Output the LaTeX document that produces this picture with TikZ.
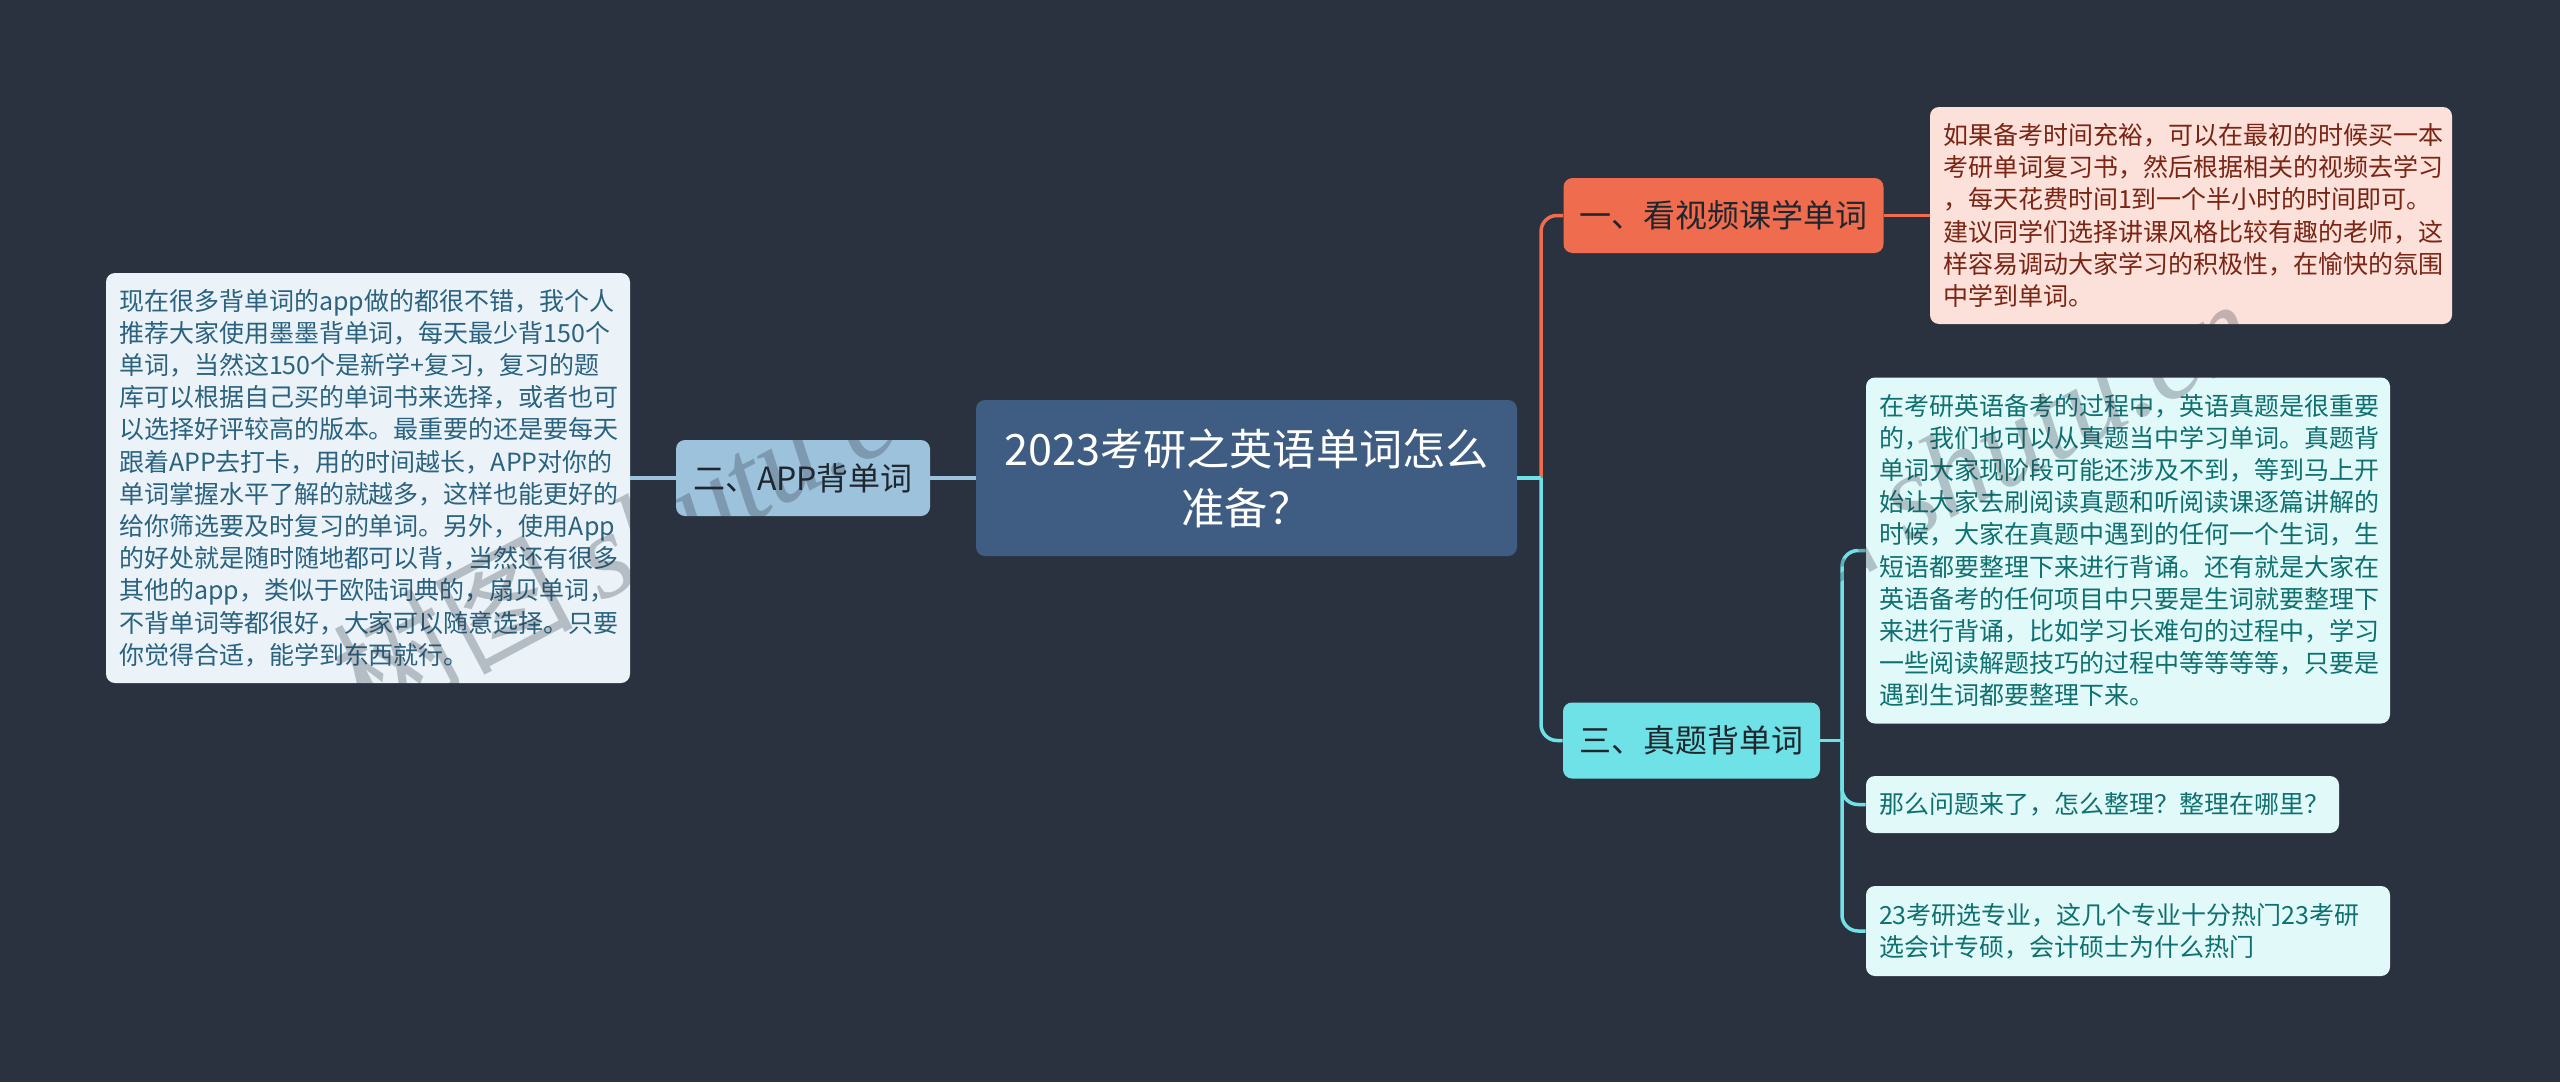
\documentclass[tikz,border=0pt]{standalone}
\usepackage{fontspec}
\setmainfont{Noto Sans CJK SC}
\newfontfamily\wmlatin[Scale=1.0]{Liberation Serif}
\definecolor{bgc}{HTML}{2A3240}
\definecolor{rootc}{HTML}{3F5C82}
\definecolor{orc}{HTML}{F06C4E}
\definecolor{orl}{HTML}{FCE1DB}
\definecolor{ort}{HTML}{7A2514}
\definecolor{blc}{HTML}{9CC2DC}
\definecolor{bll}{HTML}{EBF3F8}
\definecolor{blt}{HTML}{2A6280}
\definecolor{cyc}{HTML}{6EE2E6}
\definecolor{cyl}{HTML}{E2F9FA}
\definecolor{cyt}{HTML}{0F7070}
\definecolor{inkd}{HTML}{20262E}
\tikzset{
  x=0.5pt,y=-0.5pt,
  card/.style={rounded corners=4.5pt,inner ysep=0pt,inner xsep=6.5pt,align=left,font=\fontsize{12.5pt}{16.1pt}\selectfont},
  lf/.style={card,fill=#1},
  head/.style={rounded corners=4.5pt,inner sep=0pt,align=center,font=\fontsize{16pt}{20pt}\selectfont,text=inkd},
  wire/.style={line width=1.75pt,rounded corners=8pt},
  wmk/.style={rotate=28,text=bgc,opacity=0.28,font=\fontsize{60pt}{66pt}\selectfont}
}
\begin{document}
\begin{tikzpicture}
\fill[bgc] (0,0) rectangle (2560,1082);
\useasboundingbox (0,0) rectangle (2560,1082);
% nodes
\node[head,fill=rootc,text=white,minimum width=270.5pt,minimum height=78pt,font=\fontsize{21.6pt}{29.5pt}\selectfont] (root) at (1246.5,478) {2023考研之英语单词怎么\\准备？};
\node[head,fill=orc,text=inkd,minimum width=160pt,minimum height=37.5pt] (b1) at (1723.5,215.5) {一、看视频课学单词};
\node[head,fill=blc,minimum width=127pt,minimum height=38pt] (b2) at (803,478) {二、APP背单词};
\node[head,fill=cyc,minimum width=128.5pt,minimum height=38pt] (b3) at (1691.5,740.5) {三、真题背单词};
\node[lf=orl,text=ort,minimum width=261pt,text width=248pt,minimum height=108.5pt] (l1) at (2191,215.5) {如果备考时间充裕，可以在最初的时候买一本\\考研单词复习书，然后根据相关的视频去学习\\，每天花费时间1到一个半小时的时间即可。\\建议同学们选择讲课风格比较有趣的老师，这\\样容易调动大家学习的积极性，在愉快的氛围\\中学到单词。};
\node[lf=bll,text=blt,minimum width=262pt,text width=249pt,minimum height=205pt] (l2) at (368,478) {现在很多背单词的app做的都很不错，我个人\\推荐大家使用墨墨背单词，每天最少背150个\\单词，当然这150个是新学+复习，复习的题\\库可以根据自己买的单词书来选择，或者也可\\以选择好评较高的版本。最重要的还是要每天\\跟着APP去打卡，用的时间越长，APP对你的\\单词掌握水平了解的就越多，这样也能更好的\\给你筛选要及时复习的单词。另外，使用App\\的好处就是随时随地都可以背，当然还有很多\\其他的app，类似于欧陆词典的，扇贝单词，\\不背单词等都很好，大家可以随意选择。只要\\你觉得合适，能学到东西就行。};
\node[lf=cyl,text=cyt,minimum width=262pt,text width=249pt,minimum height=173pt] (l3) at (2128,550.5) {在考研英语备考的过程中，英语真题是很重要\\的，我们也可以从真题当中学习单词。真题背\\单词大家现阶段可能还涉及不到，等到马上开\\始让大家去刷阅读真题和听阅读课逐篇讲解的\\时候，大家在真题中遇到的任何一个生词，生\\短语都要整理下来进行背诵。还有就是大家在\\英语备考的任何项目中只要是生词就要整理下\\来进行背诵，比如学习长难句的过程中，学习\\一些阅读解题技巧的过程中等等等等，只要是\\遇到生词都要整理下来。};
\node[lf=cyl,text=cyt,minimum width=236.5pt,text width=223.5pt,minimum height=28.5pt] (l4) at (2102.5,804.5) {那么问题来了，怎么整理？整理在哪里？};
\node[lf=cyl,text=cyt,minimum width=262pt,text width=249pt,minimum height=45pt] (l5) at (2128,931) {23考研选专业，这几个专业十分热门23考研\\选会计专硕，会计硕士为什么热门};
% connectors
\coordinate (t1) at (1541,478);
\coordinate (t3) at (1842,740.5);
\draw[wire,orc] (t1) |- (b1.west);
\draw[wire,orc] (b1.east) -- (l1.west);
\draw[wire,blc] (root.west) -- (b2.east);
\draw[wire,blc] (b2.west) -- (l2.east);
\draw[wire,cyc] (t1) |- (b3.west);
\draw[wire,cyc] (root.east) -- (t1);
\draw[wire,cyc] (b3.east) -- (t3);
\draw[wire,cyc] (t3) |- (l3.west);
\draw[wire,cyc] (t3) |- (l4.west);
\draw[wire,cyc] (t3) |- (l5.west);
% watermark
\node[wmk] (wa) at (640,530) {树图 {\wmlatin\itshape shutu.cn}};
\node[wmk] (wb) at (1945,470) {树图 {\wmlatin\itshape shutu.cn}};
\end{tikzpicture}
\end{document}
